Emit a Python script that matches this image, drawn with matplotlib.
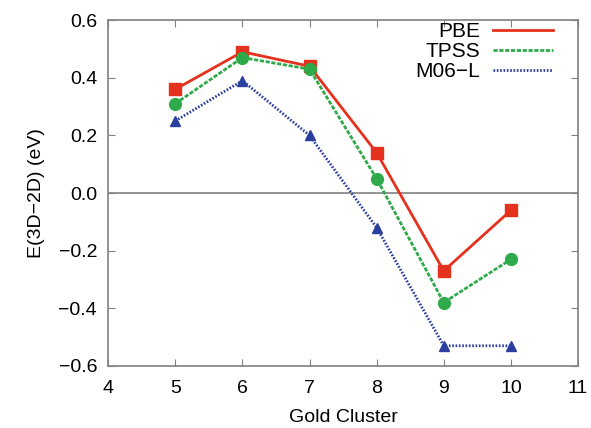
import matplotlib
matplotlib.use("Agg")
import matplotlib.pyplot as plt

clusters = [5, 6, 7, 8, 9, 10]
pbe = [0.36, 0.49, 0.44, 0.14, -0.27, -0.06]
tpss = [0.31, 0.47, 0.43, 0.05, -0.38, -0.23]
m06l = [0.25, 0.39, 0.20, -0.12, -0.53, -0.53]

plt.rcParams['font.family'] = ['Liberation Sans', 'DejaVu Sans']

fig = plt.figure(figsize=(5.91, 4.28), dpi=100)
ax = fig.add_axes([0.183, 0.145, 0.795, 0.808])

ax.axhline(0, color='#808080', lw=1.2, zorder=1)
ax.plot(clusters, pbe, color='#e5321e', lw=2, marker='s', ms=8.5, label='PBE', zorder=3)
ax.plot(clusters, tpss, color='#2eaa4a', lw=2, ls=(0, (1.5, 0.6)), marker='o', ms=8.5,
        label='TPSS', zorder=3)
ax.plot(clusters, m06l, color='#2b3f9e', lw=2, ls=(0, (0.6, 0.6)), marker='^', ms=7,
        label='M06\u2212L', zorder=3)

ax.set_xlim(4, 11)
ax.set_ylim(-0.6, 0.6)
ax.set_xticks(range(4, 12))
ax.set_yticks([-0.6, -0.4, -0.2, 0.0, 0.2, 0.4, 0.6])
ax.set_yticklabels(['\u22120.6', '\u22120.4', '\u22120.2', '0.0', '0.2', '0.4', '0.6'])
ax.tick_params(direction='in', top=True, right=True, labelsize=14, length=5,
               color='#808080', pad=8)
ax.tick_params(axis='x', pad=10)
for s in ax.spines.values():
    s.set_color('#808080')
    s.set_linewidth(1.2)

ax.set_xlabel('Gold Cluster', fontsize=14, labelpad=9)
ax.set_ylabel('E(3D\u22122D) (eV)', fontsize=14, labelpad=10)

leg = ax.legend(loc='upper right', bbox_to_anchor=(0.947, 0.994), frameon=False,
                fontsize=15, markerfirst=False, handlelength=2.9, handletextpad=0.6,
                labelspacing=0.05, borderpad=0, borderaxespad=0)
for h in leg.legend_handles:
    h.set_marker('')

fig.savefig('out.png', dpi=100)
